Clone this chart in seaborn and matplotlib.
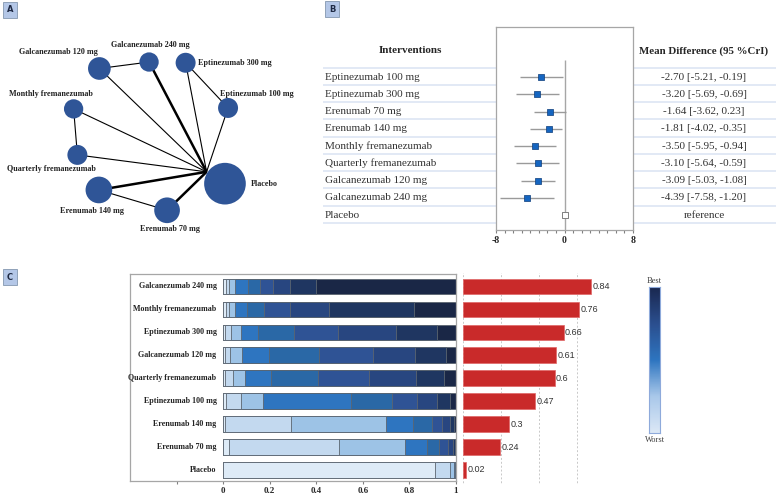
import numpy as np
import pandas as pd
import seaborn as sns
import matplotlib.pyplot as plt
from matplotlib.colors import LinearSegmentedColormap

sns.set_style("white")
plt.rcParams['font.family'] = ['Liberation Serif', 'DejaVu Serif']

W, H = 777, 494

# ---------------- data ----------------
# panel A - network
net_nodes = ['Galcanezumab 240 mg', 'Eptinezumab 300 mg', 'Eptinezumab 100 mg', 'Placebo',
             'Erenumab 70 mg', 'Erenumab 140 mg', 'Quarterly fremanezumab',
             'Monthly fremanezumab', 'Galcanezumab 120 mg']
net_node_area = [193, 207, 207, 900, 342, 369, 207, 193, 267]
net_angle = [91.5, 64.7, 20, -32.8, -77.8, -134, -165.6, 160.7, 127.4]
net_radius = [74, 81, 82, 88, 76, 75, 76, 82, 85]
edge_from = ['Galcanezumab 120 mg', 'Galcanezumab 120 mg', 'Galcanezumab 240 mg',
             'Eptinezumab 300 mg', 'Eptinezumab 300 mg', 'Eptinezumab 100 mg',
             'Monthly fremanezumab', 'Monthly fremanezumab', 'Quarterly fremanezumab',
             'Erenumab 140 mg', 'Erenumab 140 mg', 'Erenumab 70 mg']
edge_to = ['Galcanezumab 240 mg', 'Placebo', 'Placebo',
           'Eptinezumab 100 mg', 'Placebo', 'Placebo',
           'Quarterly fremanezumab', 'Placebo', 'Placebo',
           'Placebo', 'Erenumab 70 mg', 'Placebo']
edge_studies = [1, 1, 2, 1, 1, 1, 1, 1, 1, 2, 1, 2]

# panel B - forest plot
forest_names = ['Eptinezumab 100 mg', 'Eptinezumab 300 mg', 'Erenumab 70 mg', 'Erenumab 140 mg',
                'Monthly fremanezumab', 'Quarterly fremanezumab', 'Galcanezumab 120 mg',
                'Galcanezumab 240 mg', 'Placebo']
mean_diff = [-2.70, -3.20, -1.64, -1.81, -3.50, -3.10, -3.09, -4.39, 0.0]
cri_low = [-5.21, -5.69, -3.62, -4.02, -5.95, -5.64, -5.03, -7.58, np.nan]
cri_high = [-0.19, -0.69, 0.23, -0.35, -0.94, -0.59, -1.08, -1.20, np.nan]

# panel C - cumulative rank probabilities (worst -> best) and SUCRA
rank_names = ['Galcanezumab 240 mg', 'Monthly fremanezumab', 'Eptinezumab 300 mg',
              'Galcanezumab 120 mg', 'Quarterly fremanezumab', 'Eptinezumab 100 mg',
              'Erenumab 140 mg', 'Erenumab 70 mg', 'Placebo']
cum_gal240 = [0.011, 0.026, 0.052, 0.106, 0.159, 0.215, 0.289, 0.398, 1.0]
cum_monthly = [0.011, 0.026, 0.050, 0.103, 0.176, 0.287, 0.455, 0.821, 1.0]
cum_ept300 = [0.009, 0.034, 0.077, 0.150, 0.305, 0.494, 0.742, 0.918, 1.0]
cum_gal120 = [0.009, 0.030, 0.080, 0.198, 0.413, 0.642, 0.823, 0.958, 1.0]
cum_quarterly = [0.010, 0.043, 0.093, 0.206, 0.408, 0.625, 0.827, 0.948, 1.0]
cum_ept100 = [0.012, 0.077, 0.170, 0.550, 0.726, 0.834, 0.918, 0.974, 1.0]
cum_ere140 = [0.008, 0.292, 0.699, 0.816, 0.895, 0.941, 0.976, 0.992, 1.0]
cum_ere70 = [0.026, 0.499, 0.780, 0.876, 0.928, 0.964, 0.986, 0.996, 1.0]
cum_placebo = [0.911, 0.973, 0.990, 0.997, 0.999, 1.0, 1.0, 1.0, 1.0]
sucra = [0.84, 0.76, 0.66, 0.61, 0.6, 0.47, 0.3, 0.24, 0.02]

rank_colors = ['#deebf7', '#c3d9ef', '#9dc3e6', '#2e75c0', '#2a68a6',
               '#2f5395', '#284680', '#1f3661', '#1a2746']

fig = plt.figure(figsize=(W / 100, H / 100), dpi=100)


def px_axes(x0, y0, x1, y1):
    return fig.add_axes([x0 / W, 1 - y1 / H, (x1 - x0) / W, (y1 - y0) / H])


# ---------------- panel A ----------------
bg = px_axes(0, 0, W, H)
bg.set_xlim(0, W)
bg.set_ylim(H, 0)
bg.axis('off')

cx, cy = 151, 136
ang = np.deg2rad(net_angle)
node_x = cx + np.array(net_radius) * np.cos(ang)
node_y = cy - np.array(net_radius) * np.sin(ang)
pos = {n: (x, y) for n, x, y in zip(net_nodes, node_x, node_y)}

# edges meet the reference node on its rim, on the side facing the layout centre
hub = 'Placebo'
hub_r = np.sqrt(max(net_node_area) / np.pi) / 0.72  # marker radius in px
hx, hy = pos[hub]
d = np.array([cx - hx, cy - hy])
d = d / np.hypot(*d)
anchor = {n: pos[n] for n in net_nodes}
anchor[hub] = (hx + d[0] * hub_r * 0.93, hy + d[1] * hub_r * 0.93)

for a, b, k in zip(edge_from, edge_to, edge_studies):
    bg.plot([anchor[a][0], anchor[b][0]], [anchor[a][1], anchor[b][1]], color='black',
            lw=0.8 * k + (0.2 if k > 1 else 0), zorder=1, solid_capstyle='butt')

nodes = pd.DataFrame({'x': node_x, 'y': node_y, 'area': net_node_area})
sns.scatterplot(data=nodes, x='x', y='y', size='area', sizes=(193, 900),
                size_norm=(193, 900), color='#2f5597', edgecolor='none',
                legend=False, ax=bg, zorder=3)
bg.set_xlabel('')
bg.set_ylabel('')

label_off = {
    'Galcanezumab 120 mg': (-2, -16, 'right'),
    'Galcanezumab 240 mg': (1, -17, 'center'),
    'Eptinezumab 300 mg': (12, 0, 'left'),
    'Eptinezumab 100 mg': (-8, -14, 'left'),
    'Monthly fremanezumab': (-23, -15, 'center'),
    'Quarterly fremanezumab': (-26, 14, 'center'),
    'Erenumab 140 mg': (-7, 21, 'center'),
    'Erenumab 70 mg': (3, 19, 'center'),
    'Placebo': (26, 0, 'left'),
}
for n in net_nodes:
    dx, dy, ha = label_off[n]
    bg.text(pos[n][0] + dx, pos[n][1] + dy, n, ha=ha, va='center',
            fontsize=5.9, fontweight='bold', color='#222222', zorder=4)

for letter, (lx, ly) in zip('ABC', [(10, 10), (332, 9), (10, 277)]):
    bg.text(lx, ly, letter, ha='center', va='center', fontsize=6,
            fontweight='bold', family='DejaVu Sans', color='#1f2a44',
            bbox=dict(boxstyle='square,pad=0.45', fc='#b4c7e7', ec='#8497b0', lw=0.6))

# ---------------- panel B ----------------
row0, pitch = 77, 17.25
ylim_b = ((230 - row0) / pitch, (27 - row0) / pitch)
rows = np.arange(len(forest_names))

tb = px_axes(300, 27, W, 230)
tb.set_xlim(300, W)
tb.set_ylim(*ylim_b)
tb.axis('off')
sep_y = np.arange(len(forest_names) + 1) - 0.54
tb.hlines(sep_y, 323, 496, color='#dae3f3', lw=1.1)
tb.hlines(sep_y, 633, 776, color='#dae3f3', lw=1.1)
hy_t = (50.7 - row0) / pitch
tb.text(410, hy_t, 'Interventions', ha='center', va='center', fontsize=8, fontweight='bold')
tb.text(704, hy_t, 'Mean Difference (95 %CrI)', ha='center', va='center',
        fontsize=7.8, fontweight='bold')
for i, n in enumerate(forest_names):
    tb.text(325, i, n, ha='left', va='center', fontsize=8, color='#333333')
    if np.isnan(cri_low[i]):
        s = 'reference'
    else:
        s = f'{mean_diff[i]:.2f} [{cri_low[i]:.2f}, {cri_high[i]:.2f}]'
    tb.text(704, i, s, ha='center', va='center', fontsize=8, color='#333333')

fp = px_axes(496, 27, 633, 230)
fp.set_facecolor('none')
fp.set_xlim(-8, 8)
fp.set_ylim(*ylim_b)
fp.vlines(0, -0.99, ylim_b[0], color='#a6a6a6', lw=1)
fp.hlines(rows[:-1], cri_low[:-1], cri_high[:-1], color='#9a9a9a', lw=1)
sns.scatterplot(x=mean_diff[:-1], y=rows[:-1], marker='s', s=20, color='#1565c0',
                edgecolor='#0b3c7a', linewidth=0.5, ax=fp, zorder=3)
sns.scatterplot(x=mean_diff[-1:], y=rows[-1:], marker='s', s=20, color='white',
                edgecolor='#808080', linewidth=0.7, ax=fp, zorder=3)
for sp in fp.spines.values():
    sp.set_color('#a6a6a6')
    sp.set_linewidth(0.9)
fp.set_yticks([])
fp.set_xticks([-8, 0, 8])
fp.set_xticklabels(['-8', '0', '8'], fontweight='bold', fontsize=7)
fp.set_xticks(np.arange(-8, 9, 1), minor=True)
fp.tick_params(axis='x', which='both', direction='out', length=2.5, width=0.8,
               color='#808080', pad=2, bottom=True)

# ---------------- panel C ----------------
row0c, pitchc = 286.3, 22.96
cum_rows = [cum_gal240, cum_monthly, cum_ept300, cum_gal120, cum_quarterly,
            cum_ept100, cum_ere140, cum_ere70, cum_placebo]
cum = pd.DataFrame(cum_rows, index=rank_names)

st = px_axes(130, 274, 456, 481)
for k in range(8, -1, -1):
    sns.barplot(x=cum[k].values, y=rank_names, orient='h', color=rank_colors[k],
                saturation=1, width=0.67, edgecolor='#5b6570', linewidth=0.6, ax=st)
st.set_xlim(-0.4, 1.0)
st.set_ylim((481 - row0c) / pitchc, (274 - row0c) / pitchc)
st.set_yticks([])
st.set_ylabel('')
st.set_xticks([-0.2, 0, 0.2, 0.4, 0.6, 0.8, 1.0])
st.set_xticklabels(['', '0', '0.2', '0.4', '0.6', '0.8', '1'], fontweight='bold', fontsize=6.5)
st.tick_params(axis='x', direction='out', length=2.5, width=0.8, color='#808080',
               pad=2, bottom=True)
for sp in st.spines.values():
    sp.set_color('#a6a6a6')
    sp.set_linewidth(0.9)
for i, n in enumerate(rank_names):
    st.text(-0.028, i, n, ha='right', va='center', fontsize=5.8, fontweight='bold',
            color='#222222')

rb = px_axes(463.3, 273, 615.3, 485)
rb.set_facecolor('none')
rb.vlines([0, 0.25, 0.5, 0.75], -1, 10, color='#c8c8c8', lw=0.7, ls=(0, (2, 2)), zorder=0)
sns.barplot(x=sucra, y=rank_names, orient='h', color='#c92a2a', saturation=1,
            width=0.67, edgecolor='#e06666', linewidth=0.5, ax=rb)
rb.set_xlim(0, 1)
rb.set_ylim((485 - row0c) / pitchc, (273 - row0c) / pitchc)
rb.bar_label(rb.containers[0], labels=[f'{v:g}' for v in sucra], padding=1,
             fontsize=6.5, family='Liberation Sans', color='#333333')
rb.axis('off')

# colorbar best/worst
cb = px_axes(649.3, 286.7, 660, 432.7)
cmap = LinearSegmentedColormap.from_list(
    'rank', ['#dce8f6', '#a9c8ea', '#2e75c0', '#2b4f8f', '#1a2850'])
cb.imshow(np.linspace(1, 0, 200)[:, None], aspect='auto', cmap=cmap)
cb.set_xticks([])
cb.set_yticks([])
for sp in cb.spines.values():
    sp.set_color('#8eaadb')
    sp.set_linewidth(0.8)
bg.text(654.6, 281, 'Best', ha='center', va='center', fontsize=6, color='#404040')
bg.text(655, 440, 'Worst', ha='center', va='center', fontsize=6, color='#404040')

fig.savefig('out.png', dpi=100)
